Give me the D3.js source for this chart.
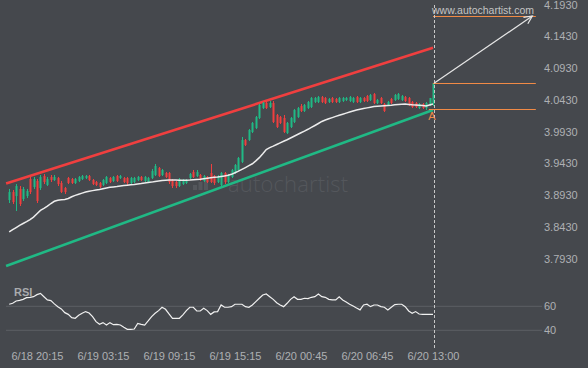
<!DOCTYPE html>
<html><head><meta charset="utf-8">
<script src="https://cdn.jsdelivr.net/npm/d3@7"></script>
<style>html,body{margin:0;padding:0;background:#45484d;}svg{display:block;}</style>
</head><body>
<svg id="c" width="588" height="368"></svg>
<script>
const opens=[3.8854,3.8980,3.8917,3.9028,3.8870,3.8917,3.9185,3.9059,3.9154,3.9043,
3.9232,3.9091,3.9217,3.9169,3.9201,3.9122,3.9043,3.9201,3.9185,3.9122,
3.9154,3.9185,3.9201,3.9232,3.9169,3.9138,3.9122,3.9091,3.9122,3.9201,
3.9154,3.9232,3.9201,3.9201,3.9201,3.9122,3.9138,3.9169,3.9217,3.9154,
3.9138,3.9201,3.9248,3.9358,3.9248,3.9280,3.9280,3.9169,3.9138,3.9075,
3.9106,3.9122,3.9201,3.9295,3.9232,3.9248,3.9154,3.9217,3.9280,3.9232,
3.9138,3.9091,3.9280,3.9138,3.9217,3.9280,3.9327,3.9453,3.9799,3.9799,
3.9925,3.9988,4.0146,4.0303,4.0382,4.0319,4.0382,4.0193,4.0161,4.0146,
3.9909,4.0004,4.0083,4.0161,4.0335,4.0256,4.0303,4.0319,4.0398,4.0398,
4.0476,4.0461,4.0398,4.0461,4.0445,4.0398,4.0413,4.0429,4.0413,4.0398,
4.0476,4.0398,4.0461,4.0492,4.0429,4.0524,4.0382,4.0461,4.0366,4.0351,
4.0445,4.0429,4.0445,4.0429,4.0476,4.0461,4.0398,4.0382,4.0303,4.0366,
4.0303,4.0351,4.0366];
const highs=[3.9028,3.9012,3.9106,3.9075,3.9059,3.9028,3.9217,3.9217,3.9185,3.9248,
3.9264,3.9217,3.9248,3.9248,3.9217,3.9154,3.9059,3.9217,3.9201,3.9201,
3.9232,3.9248,3.9248,3.9248,3.9185,3.9154,3.9138,3.9185,3.9232,3.9217,
3.9232,3.9248,3.9248,3.9217,3.9217,3.9217,3.9217,3.9232,3.9232,3.9232,
3.9217,3.9343,3.9421,3.9374,3.9343,3.9295,3.9295,3.9185,3.9154,3.9201,
3.9185,3.9185,3.9280,3.9327,3.9327,3.9264,3.9248,3.9232,3.9421,3.9248,
3.9248,3.9295,3.9295,3.9264,3.9343,3.9421,3.9532,3.9847,3.9815,3.9972,
4.0083,4.0177,4.0366,4.0398,4.0413,4.0413,4.0413,4.0209,4.0177,4.0193,
4.0083,4.0161,4.0287,4.0319,4.0366,4.0366,4.0413,4.0476,4.0476,4.0492,
4.0492,4.0476,4.0461,4.0476,4.0461,4.0476,4.0476,4.0476,4.0492,4.0476,
4.0492,4.0476,4.0476,4.0508,4.0524,4.0539,4.0445,4.0476,4.0382,4.0413,
4.0461,4.0524,4.0539,4.0508,4.0492,4.0476,4.0413,4.0398,4.0382,4.0382,
4.0398,4.0461,4.0697];
const lows=[3.8807,3.8791,3.8681,3.8760,3.8839,3.8886,3.8949,3.9028,3.8807,3.9012,
3.9106,3.9075,3.9138,3.9154,3.9075,3.8965,3.8949,3.9106,3.9106,3.9106,
3.9138,3.9169,3.9185,3.9154,3.9091,3.9075,3.9043,3.9075,3.9106,3.9122,
3.9138,3.9138,3.9185,3.9122,3.9091,3.9106,3.9122,3.9154,3.9154,3.9138,
3.9122,3.9185,3.9232,3.9217,3.9232,3.9201,3.9106,3.9043,3.9043,3.9059,
3.9091,3.9106,3.9185,3.9201,3.9217,3.9154,3.9138,3.9122,3.9122,3.9091,
3.9122,3.9043,3.9106,3.9122,3.9201,3.9264,3.9311,3.9437,3.9705,3.9784,
3.9909,3.9972,4.0130,4.0287,4.0287,4.0303,4.0067,3.9988,4.0051,3.9909,
3.9894,3.9988,4.0067,4.0146,4.0240,4.0240,4.0287,4.0303,4.0382,4.0382,
4.0382,4.0366,4.0382,4.0382,4.0382,4.0382,4.0398,4.0413,4.0398,4.0382,
4.0382,4.0382,4.0398,4.0398,4.0413,4.0366,4.0366,4.0366,4.0240,4.0335,
4.0366,4.0413,4.0429,4.0413,4.0398,4.0335,4.0303,4.0303,4.0287,4.0287,
4.0272,4.0335,4.0335];
const closes=[3.8980,3.8823,3.9075,3.8791,3.9028,3.8996,3.8980,3.9185,3.8839,3.9217,
3.9138,3.9185,3.9169,3.9217,3.9106,3.8980,3.8980,3.9122,3.9122,3.9185,
3.9217,3.9232,3.9232,3.9169,3.9106,3.9091,3.9059,3.9169,3.9217,3.9138,
3.9217,3.9154,3.9232,3.9138,3.9122,3.9201,3.9201,3.9217,3.9169,3.9217,
3.9201,3.9311,3.9390,3.9232,3.9327,3.9217,3.9138,3.9075,3.9075,3.9185,
3.9169,3.9169,3.9264,3.9217,3.9295,3.9169,3.9232,3.9138,3.9138,3.9122,
3.9232,3.9280,3.9138,3.9248,3.9327,3.9406,3.9516,3.9799,3.9721,3.9957,
4.0067,4.0161,4.0351,4.0382,4.0303,4.0382,4.0083,4.0004,4.0067,3.9925,
4.0067,4.0146,4.0272,4.0303,4.0256,4.0351,4.0398,4.0461,4.0461,4.0476,
4.0398,4.0382,4.0445,4.0398,4.0398,4.0461,4.0461,4.0461,4.0476,4.0461,
4.0398,4.0461,4.0413,4.0413,4.0508,4.0382,4.0429,4.0382,4.0256,4.0398,
4.0382,4.0508,4.0524,4.0492,4.0413,4.0351,4.0319,4.0319,4.0366,4.0303,
4.0382,4.0461,4.0697];
const maValues=[3.8351,3.8387,3.8421,3.8456,3.8484,3.8513,3.8547,3.8585,3.8639,3.8691,
3.8722,3.8757,3.8799,3.8834,3.8851,3.8859,3.8862,3.8878,3.8905,3.8927,
3.8946,3.8963,3.8979,3.8993,3.9002,3.9012,3.9021,3.9032,3.9043,3.9054,
3.9061,3.9067,3.9075,3.9081,3.9087,3.9094,3.9100,3.9108,3.9114,3.9122,
3.9130,3.9136,3.9144,3.9152,3.9160,3.9166,3.9169,3.9168,3.9168,3.9166,
3.9166,3.9165,3.9168,3.9173,3.9177,3.9180,3.9190,3.9198,3.9206,3.9212,
3.9217,3.9225,3.9234,3.9243,3.9259,3.9284,3.9308,3.9336,3.9365,3.9395,
3.9425,3.9470,3.9521,3.9584,3.9650,3.9680,3.9703,3.9728,3.9754,3.9779,
3.9804,3.9831,3.9858,3.9886,3.9913,3.9940,3.9968,3.9998,4.0028,4.0059,
4.0091,4.0114,4.0133,4.0152,4.0171,4.0190,4.0206,4.0223,4.0239,4.0256,
4.0272,4.0283,4.0294,4.0305,4.0316,4.0325,4.0330,4.0335,4.0339,4.0344,
4.0347,4.0354,4.0358,4.0363,4.0365,4.0360,4.0355,4.0352,4.0346,4.0341,
4.0336,4.0351,4.0365];
const rsiValues=[61.7,62.5,64.4,65.0,65.8,67.2,67.5,68.0,69.7,70.8,
68.0,65.3,64.7,62.0,59.7,57.8,54.7,53.3,50.6,50.0,
52.5,54.2,55.6,54.4,51.4,47.2,45.0,46.4,44.4,46.4,
44.7,45.0,44.4,42.5,40.8,40.8,41.1,45.8,45.0,44.4,
47.8,51.4,54.2,56.4,59.2,57.5,53.6,50.0,50.0,50.0,
52.8,56.4,59.2,59.2,56.1,56.1,58.3,56.4,53.3,55.3,
55.6,61.1,59.2,59.2,59.7,61.7,61.7,61.7,59.7,59.2,
61.1,63.9,66.7,69.4,70.3,68.0,65.8,63.0,61.1,59.7,
62.5,65.8,68.0,65.8,65.8,66.7,66.4,67.5,68.0,70.3,
68.0,67.5,65.8,65.3,65.3,68.0,65.3,63.6,61.7,60.3,
58.6,57.0,61.1,61.7,59.7,61.1,61.1,59.7,59.2,57.0,
59.2,61.4,61.7,61.7,59.7,56.1,54.2,55.6,53.6,53.3,
53.3,53.3,53.3];
const timeTickIdx=[8,27,46,65,84,103,122];
const timeTickLabels=["6/18 20:15","6/19 03:15","6/19 09:15","6/19 15:15","6/20 00:45","6/20 06:45","6/20 13:00"];
const priceTicks=[3.7930,3.8430,3.8930,3.9430,3.9930,4.0430,4.0930,4.1430,4.1930];
const rsiTicks=[40,60];
const resistance=[{i:-0.9,p:3.9114},{i:122,p:4.1251}];
const support=[{i:-0.9,p:3.7815},{i:122,p:4.0272}];
const levelPrices=[4.0287,4.0692,4.1752];
const levelStartIdx=[120.8,122,122];
const levelEndIdx=151.6;
const forecast=[{i:122,p:4.0692},{i:150.6,p:4.1752}];
const pointA={i:122,p:4.0287,label:"A"};

const svg=d3.select("#c");
const W=588,H=368;
svg.append("rect").attr("width",W).attr("height",H).attr("fill","#45484d");

const x=d3.scaleLinear().domain([0,122]).range([9.2,433]);
const y=d3.scaleLinear().domain([3.793,4.193]).range([258.7,4.7]);
const ry=d3.scaleLinear().domain([40,60]).range([330.3,306.3]);

const GREEN="#20b985",RED="#f03f3f",ORANGE="#f08a46";
const font="'Liberation Sans', Arial, sans-serif";

// watermark
const wm=svg.append("g").attr("fill","#54575c");
wm.append("text").attr("x",228).attr("y",192).attr("font-family","'Open Sans', sans-serif").attr("font-weight",300)
  .attr("font-size",22).attr("textLength",120).attr("lengthAdjust","spacing").text("autochartist");
const wmBars=[5,8,11];
wm.selectAll("rect.b").data(wmBars).join("rect").attr("x",(d,i)=>193+i*5.5).attr("y",d=>190-d).attr("width",4).attr("height",d=>d);

// RSI grid
const rg=svg.append("g");
rg.selectAll("line").data(rsiTicks).join("line").attr("x1",6).attr("x2",542)
  .attr("y1",d=>ry(d)).attr("y2",d=>ry(d)).attr("stroke","#5c5f64").attr("stroke-width",1);

// trend lines
const ln=d3.line().x(d=>x(d.i)).y(d=>y(d.p));
svg.append("path").attr("d",ln(resistance)).attr("stroke",RED).attr("stroke-width",2.6).attr("fill","none");
svg.append("path").attr("d",ln(support)).attr("stroke",GREEN).attr("stroke-width",2.6).attr("fill","none");

// candles
const idx=d3.range(opens.length);
const cg=svg.append("g");
cg.selectAll("line").data(idx).join("line")
  .attr("x1",i=>Math.round(x(i))+0.5).attr("x2",i=>Math.round(x(i))+0.5)
  .attr("y1",i=>y(highs[i])).attr("y2",i=>y(lows[i]))
  .attr("stroke",i=>closes[i]>=opens[i]?GREEN:RED).attr("stroke-width",1);
cg.selectAll("rect").data(idx).join("rect")
  .attr("x",i=>Math.round(x(i))-0.5).attr("width",2)
  .attr("y",i=>y(Math.max(opens[i],closes[i])))
  .attr("height",i=>Math.max(1,Math.abs(y(opens[i])-y(closes[i]))))
  .attr("fill",i=>closes[i]>=opens[i]?GREEN:RED);

// MA
svg.append("path").datum(maValues).attr("d",d3.line().x((d,i)=>x(i)).y(d=>y(d)))
  .attr("stroke","#ececec").attr("stroke-width",1.5).attr("fill","none");

// RSI line
svg.append("path").datum(rsiValues).attr("d",d3.line().x((d,i)=>x(i)).y(d=>ry(d)))
  .attr("stroke","#f0f0f0").attr("stroke-width",1.2).attr("fill","none");

// levels
svg.selectAll("line.lvl").data(levelPrices).join("line").attr("class","lvl")
  .attr("x1",(d,k)=>x(levelStartIdx[k])).attr("x2",x(levelEndIdx))
  .attr("y1",d=>Math.round(y(d))+0.5).attr("y2",d=>Math.round(y(d))+0.5)
  .attr("stroke",ORANGE).attr("stroke-width",1.2);

// dashed vertical
svg.append("line").attr("x1",Math.round(x(122))+1.5).attr("x2",Math.round(x(122))+1.5).attr("y1",5).attr("y2",350)
  .attr("stroke","#c8c8c8").attr("stroke-width",1).attr("stroke-dasharray","3,2");

// forecast arrow
const fx1=x(forecast[0].i),fy1=y(forecast[0].p),fx2=x(forecast[1].i),fy2=y(forecast[1].p);
svg.append("line").attr("x1",fx1+1).attr("y1",fy1).attr("x2",fx2).attr("y2",fy2).attr("stroke","#e6e6e6").attr("stroke-width",1.2);
const ang=Math.atan2(fy2-fy1,fx2-fx1);
const ah=9, spread=0.45;
svg.append("path").attr("d",`M${fx2-ah*Math.cos(ang-spread)},${fy2-ah*Math.sin(ang-spread)}L${fx2},${fy2}L${fx2-ah*Math.cos(ang+spread)},${fy2-ah*Math.sin(ang+spread)}`)
  .attr("stroke","#e6e6e6").attr("stroke-width",1.2).attr("fill","none");

// point A
svg.append("text").attr("x",x(pointA.i)-1).attr("y",y(pointA.p)+11).attr("text-anchor","middle")
  .attr("font-family",font).attr("font-size",11).attr("fill",ORANGE).text(pointA.label);

// axes
function styleAxis(g){g.select(".domain").remove();g.selectAll("text").attr("fill","#aeb0b3").attr("font-family",font).attr("font-size",11);}
svg.append("g").attr("transform","translate(544,0)")
  .call(d3.axisRight(y).tickValues(priceTicks).tickFormat(d3.format(".4f")).tickSize(0).tickPadding(0)).call(styleAxis)
  .selectAll("text").attr("text-anchor","start");
svg.append("g").attr("transform","translate(544,0)")
  .call(d3.axisRight(ry).tickValues(rsiTicks).tickFormat(d3.format("d")).tickSize(0).tickPadding(0)).call(styleAxis);
svg.append("g").attr("transform","translate(0,349)")
  .call(d3.axisBottom(x).tickValues(timeTickIdx).tickFormat((d,i)=>timeTickLabels[i]).tickSize(0).tickPadding(3)).call(styleAxis);

// labels
svg.append("text").attr("x",14).attr("y",296).attr("font-family",font).attr("font-weight","bold").attr("font-size",11)
  .attr("fill","#a9abae").text("RSI");
svg.append("text").attr("x",432).attr("y",14).attr("font-family",font).attr("font-size",10.5).attr("fill","#c4c4c4")
  .attr("textLength",102).attr("lengthAdjust","spacing").text("www.autochartist.com");
</script>
</body></html>
